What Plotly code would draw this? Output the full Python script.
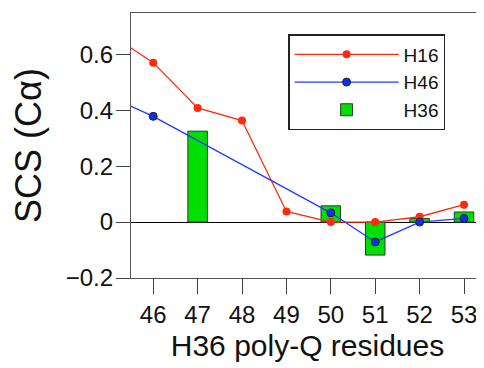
import plotly.graph_objects as go

residues = [45, 46, 47, 48, 49, 50, 51, 52, 53]
h16 = [0.675, 0.570, 0.408, 0.363, 0.038, 0.000, 0.000, 0.019, 0.062]
h46 = [0.45, 0.378, None, None, None, 0.033, -0.071, 0.000, 0.013]
bar_res = [47, 50, 51, 52, 53]
h36 = [0.325, 0.058, -0.118, 0.013, 0.036]
xtick_vals = [46, 47, 48, 49, 50, 51, 52, 53]
ytick_vals = [-0.2, 0, 0.2, 0.4, 0.6]
ytick_text = ["\u22120.2", "0", "0.2", "0.4", "0.6"]

FONT = "Liberation Sans, Arial, sans-serif"

fig = go.Figure()
fig.add_trace(go.Scatter(
    x=residues, y=h16, name="H16", mode="lines+markers",
    line=dict(color="#ff2a10", width=1.3),
    marker=dict(color="#ff2a10", size=8),
))
fig.add_trace(go.Scatter(
    x=residues, y=h46, name="H46", mode="lines+markers", connectgaps=True,
    line=dict(color="#1e3cff", width=1.3),
    marker=dict(color="#1030f0", size=8, line=dict(color="#202020", width=1)),
))
fig.add_trace(go.Bar(
    x=bar_res, y=h36, name="H36", width=0.44,
    marker=dict(color="#00e000", line=dict(color="#333333", width=1)),
))

# page body has an 8px margin; layout is shrunk to compensate
fig.update_layout(
    width=476, height=360,
    margin=dict(l=123, r=0, t=5, b=90),
    paper_bgcolor="white", plot_bgcolor="white",
    font=dict(family=FONT, color="#111111", size=24),
    showlegend=True,
    legend=dict(
        x=0.4456, y=0.92, xanchor="left", yanchor="top",
        bgcolor="white", bordercolor="#222222", borderwidth=1.3,
        font=dict(size=19, family=FONT),
        itemwidth=104,
    ),
    xaxis=dict(
        range=[45.5, 53.45],
        tickmode="array", tickvals=xtick_vals,
        ticks="outside", ticklen=15, tickcolor="#444444", tickwidth=1.3,
        showline=True, linecolor="#555555", linewidth=1.3, mirror=True,
        showgrid=False, zeroline=False,
        tickfont=dict(size=24),
        title=dict(text="H36 poly-Q residues", font=dict(size=30), standoff=8),
    ),
    yaxis=dict(
        range=[-0.2, 0.7475],
        tickmode="array", tickvals=ytick_vals, ticktext=ytick_text,
        ticks="outside", ticklen=14, tickcolor="#444444", tickwidth=1.3,
        showline=True, linecolor="#555555", linewidth=1.3, mirror=False,
        showgrid=False,
        zeroline=True, zerolinecolor="#000000", zerolinewidth=1.2,
        tickfont=dict(size=24),
        ticklabelstandoff=-2,
        title=dict(text="SCS (C\u03b1)", font=dict(size=36), standoff=13),
    ),
)

fig.write_html("out.html")
